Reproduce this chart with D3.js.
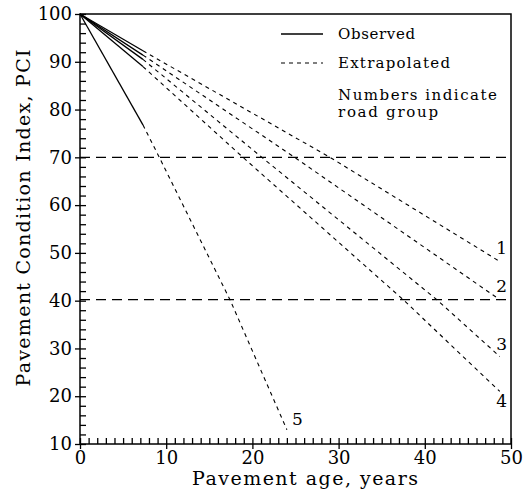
<!DOCTYPE html>
<html>
<head>
<meta charset="utf-8">
<script src="https://cdn.jsdelivr.net/npm/d3@7"></script>
<style>
  body { margin: 0; background: #fff; }
  text { font-family: "DejaVu Serif", serif; fill: #000; }
</style>
</head>
<body>
<div id="chart"></div>
<script>
// data: [age, PCI]
var groupNames = ["1", "2", "3", "4", "5"];
var observed = [
  [[0, 100], [7.3, 92.3]],
  [[0, 100], [7.3, 91.4]],
  [[0, 100], [7.3, 90.5]],
  [[0, 100], [7.3, 89.0]],
  [[0, 100], [7.3, 76.8]]
];
var extrapolated = [
  [[7.3, 92.3], [29, 70], [48.7, 48.2]],
  [[7.3, 91.4], [24.9, 70], [48.7, 40.2]],
  [[7.3, 90.5], [21.1, 70], [41.4, 40.2], [48.7, 28.3]],
  [[7.3, 89.0], [18.9, 70], [37.5, 40.2], [48.7, 21.0]],
  [[7.3, 76.8], [9.2, 70], [17.4, 40.2], [24, 13]]
];
var thresholds = [70, 40.2];
var xTicks = [0, 10, 20, 30, 40, 50];
var yTicks = [10, 20, 30, 40, 50, 60, 70, 80, 90, 100];

var svgWidth = 531, svgHeight = 491;
var margin = {top: 14, right: 20, bottom: 47, left: 80};
var chartWidth = svgWidth - margin.left - margin.right;
var chartHeight = svgHeight - margin.top - margin.bottom;

var svg = d3.select("#chart").append("svg")
  .attr("width", svgWidth)
  .attr("height", svgHeight);

var chartGroup = svg.append("g")
  .attr("transform", `translate(${margin.left}, ${margin.top})`);

var x = d3.scaleLinear().domain([0, 50]).range([0, chartWidth]);
var y = d3.scaleLinear().domain([10, 100]).range([chartHeight, 0]);

// frame
chartGroup.append("rect")
  .attr("width", chartWidth).attr("height", chartHeight)
  .attr("fill", "none").attr("stroke", "#000").attr("stroke-width", 1.5);

// minor ticks (inside)
chartGroup.append("g")
  .attr("transform", `translate(0, ${chartHeight})`)
  .call(d3.axisTop(x).tickValues(d3.range(0, 51, 1)).tickSize(6).tickFormat(""))
  .call(g => g.select(".domain").remove());
chartGroup.append("g")
  .call(d3.axisRight(y).tickValues(d3.range(10, 101, 2)).tickSize(6).tickFormat(""))
  .call(g => g.select(".domain").remove());

// major ticks with labels (outside)
var bottomAxis = chartGroup.append("g")
  .attr("transform", `translate(0, ${chartHeight})`)
  .call(d3.axisBottom(x).tickValues(xTicks).tickSize(5).tickPadding(2));
bottomAxis.select(".domain").remove();
bottomAxis.selectAll("text").attr("font-size", 18).attr("font-family", "DejaVu Serif");

var leftAxis = chartGroup.append("g")
  .call(d3.axisLeft(y).tickValues(yTicks).tickSize(5).tickPadding(3));
leftAxis.select(".domain").remove();
leftAxis.selectAll("text").attr("font-size", 18).attr("font-family", "DejaVu Serif");
chartGroup.selectAll(".tick line").attr("stroke-width", 1.3);

// threshold lines
chartGroup.selectAll(".thresh")
  .data(thresholds)
  .enter().append("line")
  .attr("x1", 0).attr("x2", chartWidth)
  .attr("y1", d => y(d)).attr("y2", d => y(d))
  .attr("stroke", "#000").attr("stroke-width", 1.3)
  .attr("stroke-dasharray", "10,6");

var line = d3.line().x(d => x(d[0])).y(d => y(d[1]));

chartGroup.selectAll(".obs")
  .data(observed)
  .enter().append("path")
  .attr("d", line)
  .attr("fill", "none").attr("stroke", "#000").attr("stroke-width", 1.3);

chartGroup.selectAll(".ext")
  .data(extrapolated)
  .enter().append("path")
  .attr("d", line)
  .attr("fill", "none").attr("stroke", "#000").attr("stroke-width", 1.1)
  .attr("stroke-dasharray", "4,4");

// group numbers
var labelPos = [[48.3, 51], [48.3, 43], [48.3, 31], [48.3, 19], [24.6, 15.2]];
chartGroup.selectAll(".num")
  .data(groupNames)
  .enter().append("text")
  .attr("x", (d, i) => x(labelPos[i][0]))
  .attr("y", (d, i) => y(labelPos[i][1]))
  .attr("dy", "0.35em")
  .attr("font-size", 17)
  .text(d => d);

// legend
var legend = chartGroup.append("g");
legend.append("line")
  .attr("x1", 201).attr("x2", 243).attr("y1", 20).attr("y2", 20)
  .attr("stroke", "#000").attr("stroke-width", 1.3);
legend.append("line")
  .attr("x1", 201).attr("x2", 243).attr("y1", 49).attr("y2", 49)
  .attr("stroke", "#000").attr("stroke-width", 1.1)
  .attr("stroke-dasharray", "4,4");
var legendText = ["Observed", "Extrapolated", "Numbers indicate", "road group"];
var legendY = [20, 49, 81, 98];
var legendLen = [77, 112, 159, 100];
legend.selectAll("text")
  .data(legendText)
  .enter().append("text")
  .attr("x", 258)
  .attr("y", (d, i) => legendY[i])
  .attr("dy", "0.35em")
  .attr("font-size", 15)
  .attr("textLength", (d, i) => legendLen[i])
  .attr("lengthAdjust", "spacing")
  .text(d => d);

// axis labels
chartGroup.append("text")
  .attr("transform", "rotate(-90)")
  .attr("x", 0 - 204)
  .attr("y", 0 - margin.left + 30)
  .attr("text-anchor", "middle")
  .attr("font-size", 19)
  .attr("textLength", 337)
  .attr("lengthAdjust", "spacing")
  .text("Pavement Condition Index, PCI");

chartGroup.append("text")
  .attr("x", 225)
  .attr("y", chartHeight + 41)
  .attr("text-anchor", "middle")
  .attr("font-size", 19)
  .attr("textLength", 226)
  .attr("lengthAdjust", "spacing")
  .text("Pavement age, years");
</script>
</body>
</html>
